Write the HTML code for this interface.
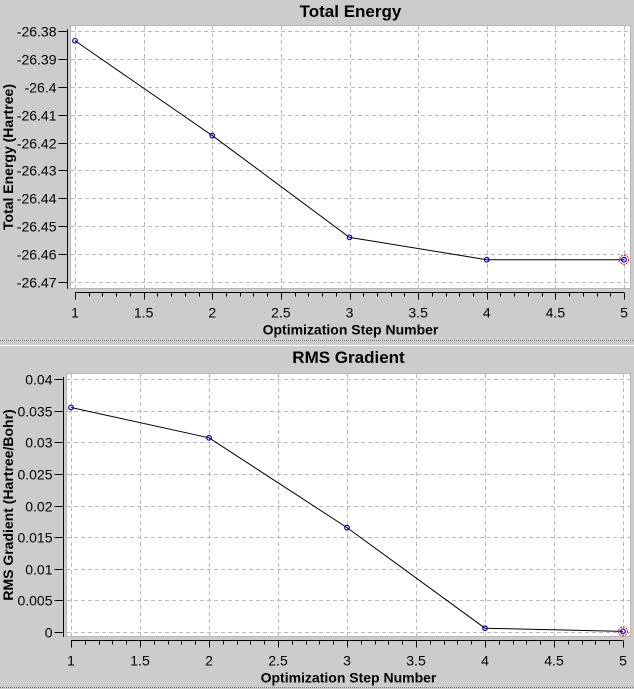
<!DOCTYPE html>
<html><head><meta charset="utf-8"><style>
html,body{margin:0;padding:0;background:#cccccc;}
svg{display:block;font-family:"Liberation Sans",sans-serif;}
</style></head><body>
<svg id="c" width="634" height="689" xmlns="http://www.w3.org/2000/svg">
<rect width="634" height="689" fill="#cccccc"/>
<line x1="0" y1="340.5" x2="634" y2="340.5" stroke="#777" stroke-dasharray="1,1"/>
<line x1="0" y1="345.5" x2="634" y2="345.5" stroke="#fff"/>
<line x1="0" y1="687.5" x2="634" y2="687.5" stroke="#777" stroke-dasharray="1,1"/>
</svg>
<script>
const steps=[1,2,3,4,5];
const energyValues=[-26.3835,-26.4175,-26.454,-26.462,-26.462];
const gradientValues=[0.0355,0.0307,0.0165,0.0006,0.0001];
const xTicks=[1,1.5,2,2.5,3,3.5,4,4.5,5];
const xTickLabels=["1","1.5","2","2.5","3","3.5","4","4.5","5"];
const energyTicks=[-26.38,-26.39,-26.4,-26.41,-26.42,-26.43,-26.44,-26.45,-26.46,-26.47];
const energyTickLabels=["-26.38","-26.39","-26.4","-26.41","-26.42","-26.43","-26.44","-26.45","-26.46","-26.47"];
const gradTicks=[0.04,0.035,0.03,0.025,0.02,0.015,0.01,0.005,0];
const gradTickLabels=["0.04","0.035","0.03","0.025","0.02","0.015","0.01","0.005","0"];

const svg=document.getElementById('c');
const NS="http://www.w3.org/2000/svg";
function mk(tag,attrs,parent){const e=document.createElementNS(NS,tag);for(const k in attrs)e.setAttribute(k,attrs[k]);(parent||svg).appendChild(e);return e;}

function panel(o){
  const g=mk('g',{});
  
  
  const xs=v=>o.x1+(v-1)/4*(o.x5-o.x1);
  const ys=v=>o.yTop+(o.yMax-v)/(o.yMax-o.yMin)*(o.yBot-o.yTop);
  const t=mk('text',{x:(o.px+o.pr)/2,y:o.titleY,'text-anchor':'middle','font-size':17,'font-weight':'bold',fill:'#000'},g);
  t.textContent=o.title;
  
  
  const pa=mk('rect',{x:o.px+0.5,y:o.pt+0.5,width:o.pr-o.px-1,height:o.pb-o.pt-1,fill:'#fff',stroke:'#888','stroke-dasharray':'1,1'},g);
  
  
  xTicks.forEach(v=>{const X=Math.round(xs(v))+0.5;const l=mk('line',{x1:X,x2:X,y1:o.pt+1,y2:o.pb-1,stroke:'#bbb','stroke-dasharray':'4,3'},g);
    });
  o.yTicks.forEach(v=>{const Y=Math.round(ys(v))+0.5;const l=mk('line',{x1:o.px+1,x2:o.pr-1,y1:Y,y2:Y,stroke:'#bbb','stroke-dasharray':'4,3'},g);
    });
  // y axis
  const ax=o.px-2.5;
  mk('line',{x1:ax,x2:ax,y1:ys(o.yMax)-2,y2:o.pb,stroke:'#000'},g);
  o.yTicks.forEach((v,i)=>{const Y=Math.round(ys(v))+0.5;mk('line',{x1:ax-9,x2:ax,y1:Y,y2:Y,stroke:'#000'},g);
    const tx=mk('text',{x:ax-11,y:Y+5,'text-anchor':'end','font-size':14,fill:'#000'},g);tx.textContent=o.yTickLabels[i];
    });
  // x axis
  const ay=o.pb+3.5;
  mk('line',{x1:xs(1),x2:xs(5),y1:ay,y2:ay,stroke:'#000'},g);
  for(let k=0;k<=40;k++){const v=1+k*0.1;const X=Math.round(xs(v))+0.5;mk('line',{x1:X,x2:X,y1:ay,y2:ay+(k%5==0?7:4),stroke:'#000'},g);}
  xTicks.forEach((v,i)=>{const tx=mk('text',{x:xs(v),y:ay+25,'text-anchor':'middle','font-size':14,fill:'#000'},g);tx.textContent=xTickLabels[i];
    });
  const xt=mk('text',{x:(o.px+o.pr)/2,y:ay+42,'text-anchor':'middle','font-size':14,'font-weight':'bold',fill:'#000'},g);
  xt.textContent='Optimization Step Number';
  
  const cy=(o.pt+o.pb)/2;
  const yt=mk('text',{x:0,y:0,transform:`translate(13,${cy}) rotate(-90)`,'text-anchor':'middle','font-size':14,'font-weight':'bold',fill:'#000'},g);
  yt.textContent=o.yTitle;
  
  // series
  const pts=steps.map((s,i)=>xs(s)+','+ys(o.vals[i])).join(' ');
  const pl=mk('polyline',{points:pts,fill:'none',stroke:'#000','stroke-width':1},g);
  
  steps.forEach((s,i)=>{
    if(i==steps.length-1){const r=mk('circle',{cx:xs(s),cy:ys(o.vals[i]),r:4.5,fill:'none',stroke:'#f00','stroke-dasharray':'2,1'},g);
      }
    const c=mk('circle',{cx:xs(s),cy:ys(o.vals[i]),r:2.3,fill:'none',stroke:'#00c','stroke-width':1.2},g);
    
  });
}
panel({name:'total-energy-chart',title:'Total Energy',titleY:17,px:70,pr:631,pt:25,pb:289,x1:75,x5:624,
  yMax:-26.38,yMin:-26.47,yTop:31,yBot:282,yTicks:energyTicks,yTickLabels:energyTickLabels,vals:energyValues,yTitle:'Total Energy (Hartree)'});
panel({name:'rms-gradient-chart',title:'RMS Gradient',titleY:363,px:66,pr:631,pt:373,pb:637,x1:71,x5:623,
  yMax:0.04,yMin:0,yTop:379,yBot:632,yTicks:gradTicks,yTickLabels:gradTickLabels,vals:gradientValues,yTitle:'RMS Gradient (Hartree/Bohr)'});
</script>
</body></html>
